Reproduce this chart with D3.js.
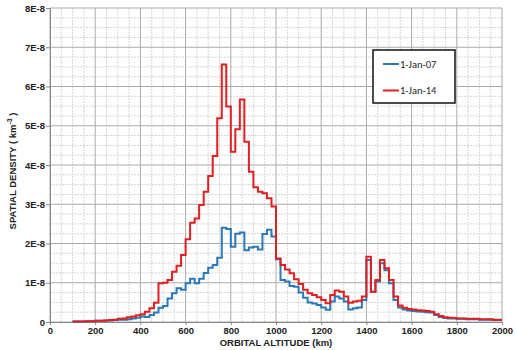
<!DOCTYPE html>
<html><head><meta charset="utf-8">
<script src="https://cdn.jsdelivr.net/npm/d3@7"></script>
<style>
html,body{margin:0;padding:0;background:#fff;}
svg{display:block;}
.tick text{font-family:"Liberation Sans Narrow","Arial Narrow","Liberation Sans",Arial,sans-serif;font-weight:bold;font-size:9.5px;fill:#222;}
</style></head><body>
<svg id="c" width="516" height="350"></svg>
<script>
const altitudes = [100,120,140,160,180,200,220,240,260,280,300,320,340,360,380,400,420,440,460,480,500,520,540,560,580,600,620,640,660,680,700,720,740,760,780,800,820,840,860,880,900,920,940,960,980,1000,1020,1040,1060,1080,1100,1120,1140,1160,1180,1200,1220,1240,1260,1280,1300,1320,1340,1360,1380,1400,1420,1440,1460,1480,1500,1520,1540,1560,1580,1600,1620,1640,1660,1680,1700,1720,1740,1760,1780,1800,1820,1840,1860,1880,1900,1920,1940,1960,1980];
const binEnd = 2000;
// spatial density in units of 1E-8 km^-3
const jan07 = [0.01,0.01,0.01,0.02,0.02,0.03,0.03,0.04,0.04,0.05,0.06,0.06,0.07,0.09,0.11,0.14,0.13,0.18,0.24,0.36,0.41,0.60,0.73,0.86,0.82,0.99,1.10,0.99,1.10,1.25,1.38,1.45,1.64,2.40,2.37,1.92,2.25,2.28,1.83,1.90,1.92,1.85,2.24,2.35,2.18,1.60,1.07,1.03,0.92,0.90,0.75,0.62,0.50,0.47,0.43,0.37,0.31,0.52,0.65,0.60,0.52,0.32,0.35,0.37,0.56,1.58,0.77,1.03,1.50,1.32,0.99,0.56,0.37,0.32,0.29,0.28,0.27,0.26,0.25,0.24,0.18,0.13,0.10,0.09,0.09,0.08,0.08,0.07,0.07,0.07,0.06,0.06,0.06,0.05,0.05];
const jan14 = [0.01,0.01,0.01,0.02,0.02,0.03,0.03,0.04,0.05,0.06,0.08,0.09,0.12,0.14,0.17,0.20,0.26,0.35,0.49,0.99,1.00,1.07,1.28,1.43,1.71,2.11,2.53,2.64,2.98,3.32,3.72,4.23,5.19,6.56,5.49,4.34,4.91,5.67,4.59,3.83,3.43,3.32,3.28,3.15,2.94,1.62,1.45,1.34,1.24,1.09,0.97,0.82,0.73,0.69,0.63,0.56,0.48,0.69,0.80,0.77,0.65,0.49,0.52,0.54,0.65,1.66,0.77,1.07,1.58,1.37,1.07,0.65,0.42,0.36,0.33,0.32,0.30,0.29,0.28,0.26,0.20,0.15,0.12,0.11,0.10,0.09,0.09,0.08,0.08,0.08,0.07,0.07,0.07,0.06,0.06];
const seriesNames = ["1-Jan-07","1-Jan-14"];
const seriesColors = ["#2a78b8","#e01f22"];
const xTicks = [0,200,400,600,800,1000,1200,1400,1600,1800,2000];
const yTicks = [0,1e-8,2e-8,3e-8,4e-8,5e-8,6e-8,7e-8,8e-8];
const yTickLabels = ["0","1E-8","2E-8","3E-8","4E-8","5E-8","6E-8","7E-8","8E-8"];

const svg = d3.select("#c");
const L=50,R=502,T=8,B=322;
const x = d3.scaleLinear().domain([0,2000]).range([L,R]);
const y = d3.scaleLinear().domain([0,8e-8]).range([B,T]);

// minor grid
const g = svg.append("g");
g.selectAll(".mx").data(d3.range(0,2001,50).filter(v=>v%200!==0)).join("line")
  .attr("x1",d=>x(d)).attr("x2",d=>x(d)).attr("y1",T).attr("y2",B)
  .attr("stroke","#d6d6d6").attr("stroke-width",1).attr("stroke-dasharray","2,1");
g.selectAll(".my").data(d3.range(0,33).map(i=>i*0.25e-8).filter((v,i)=>i%4!==0)).join("line")
  .attr("x1",L).attr("x2",R).attr("y1",d=>y(d)).attr("y2",d=>y(d))
  .attr("stroke","#d6d6d6").attr("stroke-width",1).attr("stroke-dasharray","2,1");
// major grid
g.selectAll(".Mx").data(xTicks).join("line")
  .attr("x1",d=>x(d)).attr("x2",d=>x(d)).attr("y1",T).attr("y2",B)
  .attr("stroke","#aaaaaa").attr("stroke-width",1);
g.selectAll(".My").data(yTicks).join("line")
  .attr("x1",L).attr("x2",R).attr("y1",d=>y(d)).attr("y2",d=>y(d))
  .attr("stroke","#aaaaaa").attr("stroke-width",1);

// axes
const xAxis = d3.axisBottom(x).tickValues(xTicks).tickSize(3).tickPadding(2).tickFormat(d3.format("d"));
const yAxis = d3.axisLeft(y).tickValues(yTicks).tickSize(4).tickPadding(1).tickFormat((d,i)=>yTickLabels[i]);
const gx = svg.append("g").attr("transform",`translate(0,${B})`).call(xAxis);
const gy = svg.append("g").attr("transform",`translate(${L},0)`).call(yAxis);
[gx,gy].forEach(a=>{a.select(".domain").attr("stroke","#888");a.selectAll(".tick line").attr("stroke","#888");});

// series
const line = d3.line().x(d=>x(d[0])).y(d=>y(d[1])).curve(d3.curveStepAfter);
[jan07,jan14].forEach((vals,si)=>{
  const pts = altitudes.map((a,i)=>[a, vals[i]*1e-8]);
  pts.push([binEnd, vals[vals.length-1]*1e-8]);
  svg.append("path").datum(pts).attr("d",line)
    .attr("fill","none").attr("stroke",seriesColors[si]).attr("stroke-width",2)
    .attr("stroke-linejoin","miter");
});

// axis titles
svg.append("text").attr("x",(L+R)/2).attr("y",346).attr("text-anchor","middle")
  .style("font-family","'Liberation Sans',Arial,sans-serif").style("font-weight","bold").style("font-size","9.5px").attr("fill","#222")
  .text("ORBITAL ALTITUDE (km)");
const yt = svg.append("text").attr("transform","translate(16,171) rotate(-90)").attr("text-anchor","middle")
  .style("font-family","'Liberation Sans',Arial,sans-serif").style("font-weight","bold").style("font-size","9.5px").attr("fill","#222");
yt.append("tspan").text("SPATIAL DENSITY  ( km");
yt.append("tspan").attr("dy",-4).style("font-size","7px").text("-3");
yt.append("tspan").attr("dy",4).text(" )");

// legend
const lg = svg.append("g");
lg.append("rect").attr("x",373).attr("y",50).attr("width",82).attr("height",53)
  .attr("fill","#fff").attr("stroke","#111").attr("stroke-width",1.5);
seriesNames.forEach((n,i)=>{
  const yy = 64 + i*26.5;
  lg.append("line").attr("x1",383).attr("x2",399).attr("y1",yy).attr("y2",yy)
    .attr("stroke",seriesColors[i]).attr("stroke-width",2);
  lg.append("text").attr("x",400).attr("y",yy+3.5)
    .style("font-family","Carlito,'Liberation Sans',Arial,sans-serif").style("font-size","10.5px").attr("fill","#222").text(n);
});
</script>
</body></html>
